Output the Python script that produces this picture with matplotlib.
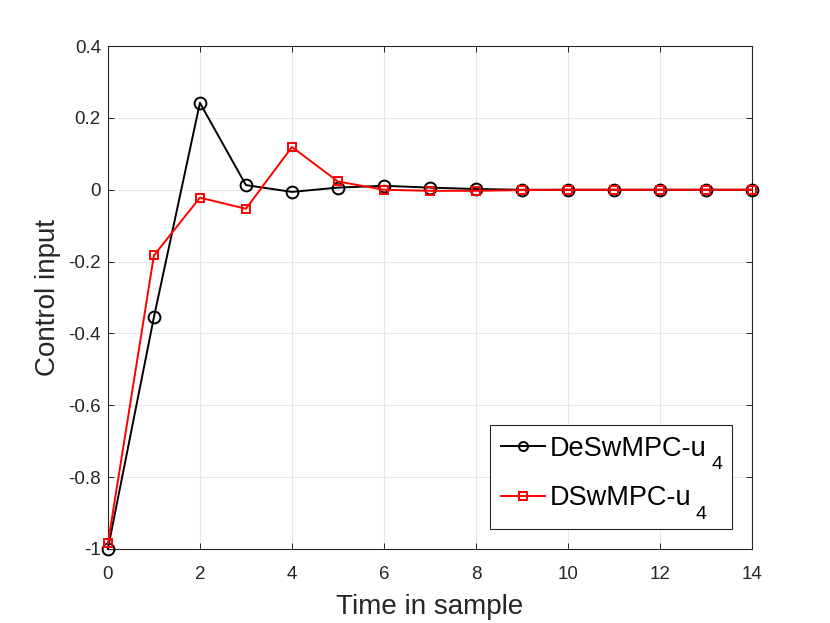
import matplotlib.pyplot as plt
from matplotlib.offsetbox import DrawingArea
from matplotlib.text import Text

plt.rcParams['font.family'] = ['Liberation Sans', 'DejaVu Sans']
plt.rcParams['axes.unicode_minus'] = False

# samples
k = list(range(15))

# DeSwMPC u4
u_desw = [-1.0, -0.355, 0.242, 0.013, -0.006, 0.006, 0.011, 0.006, 0.002, 0.0,
          0.0, 0.0, 0.0, 0.0, 0.0]
# DSwMPC u4
u_dsw = [-0.985, -0.183, -0.022, -0.053, 0.119, 0.023, 0.0, -0.003, -0.003, -0.001,
         0.0, 0.0, 0.0, 0.0, 0.0]

names = ['DeSwMPC-u', 'DSwMPC-u']
sub = '4'

yticks = [-1, -0.8, -0.6, -0.4, -0.2, 0, 0.2, 0.4]
xticks = [0, 2, 4, 6, 8, 10, 12, 14]

dark = '#262626'

fig = plt.figure(figsize=(8.3, 6.23), dpi=100)
ax = fig.add_axes([0.130, 0.119, 0.776, 0.807])

ax.plot(k, u_desw, color='black', lw=1.4, marker='o', ms=8.5, mfc='none', mew=1.4,
        clip_on=False, zorder=3, label=names[0])
ax.plot(k, u_dsw, color='red', lw=1.4, marker='s', ms=6.2, mfc='none', mew=1.4,
        clip_on=False, zorder=4, label=names[1])

ax.set_xlim(0, 14)
ax.set_ylim(-1, 0.4)
ax.set_xticks(xticks)
ax.set_yticks(yticks)
ax.set_yticklabels(['%g' % v for v in yticks])
ax.tick_params(direction='in', top=True, right=True, labelsize=13.5, length=4.5,
               width=0.7, colors=dark)
ax.tick_params(axis='x', pad=12)
ax.tick_params(axis='y', pad=5)
ax.grid(True, color='#e6e6e6', lw=0.8)
ax.set_axisbelow(True)
for s in ax.spines.values():
    s.set_color(dark)
    s.set_linewidth(0.8)

ax.set_xlabel('Time in sample', fontsize=20, color=dark, labelpad=8.5)
ax.set_ylabel('Control input', fontsize=20, color=dark, labelpad=5)

leg = ax.legend(loc='lower right', fontsize=19.5, fancybox=False, framealpha=1,
                edgecolor=dark, handlelength=1.62, handletextpad=0.18,
                borderaxespad=0.74, labelspacing=0.62, borderpad=0.38)
leg.get_frame().set_linewidth(0.8)
leg.legend_handles[0].set_markersize(6.5)
leg.legend_handles[1].set_markersize(5.5)

# MATLAB style subscript: smaller and well below the baseline
drop = 9.4  # points
for col in leg._legend_handle_box.get_children():
    for row in col.get_children():
        da = DrawingArea(7.6, 1, 0, drop)
        st = Text(0, -drop, sub, fontsize=14, color='black',
                  va='baseline', ha='left')
        st.set_figure(fig)
        da.add_artist(st)
        da.set_figure(fig)
        row.get_children().append(da)

fig.savefig('out.png', dpi=100)
